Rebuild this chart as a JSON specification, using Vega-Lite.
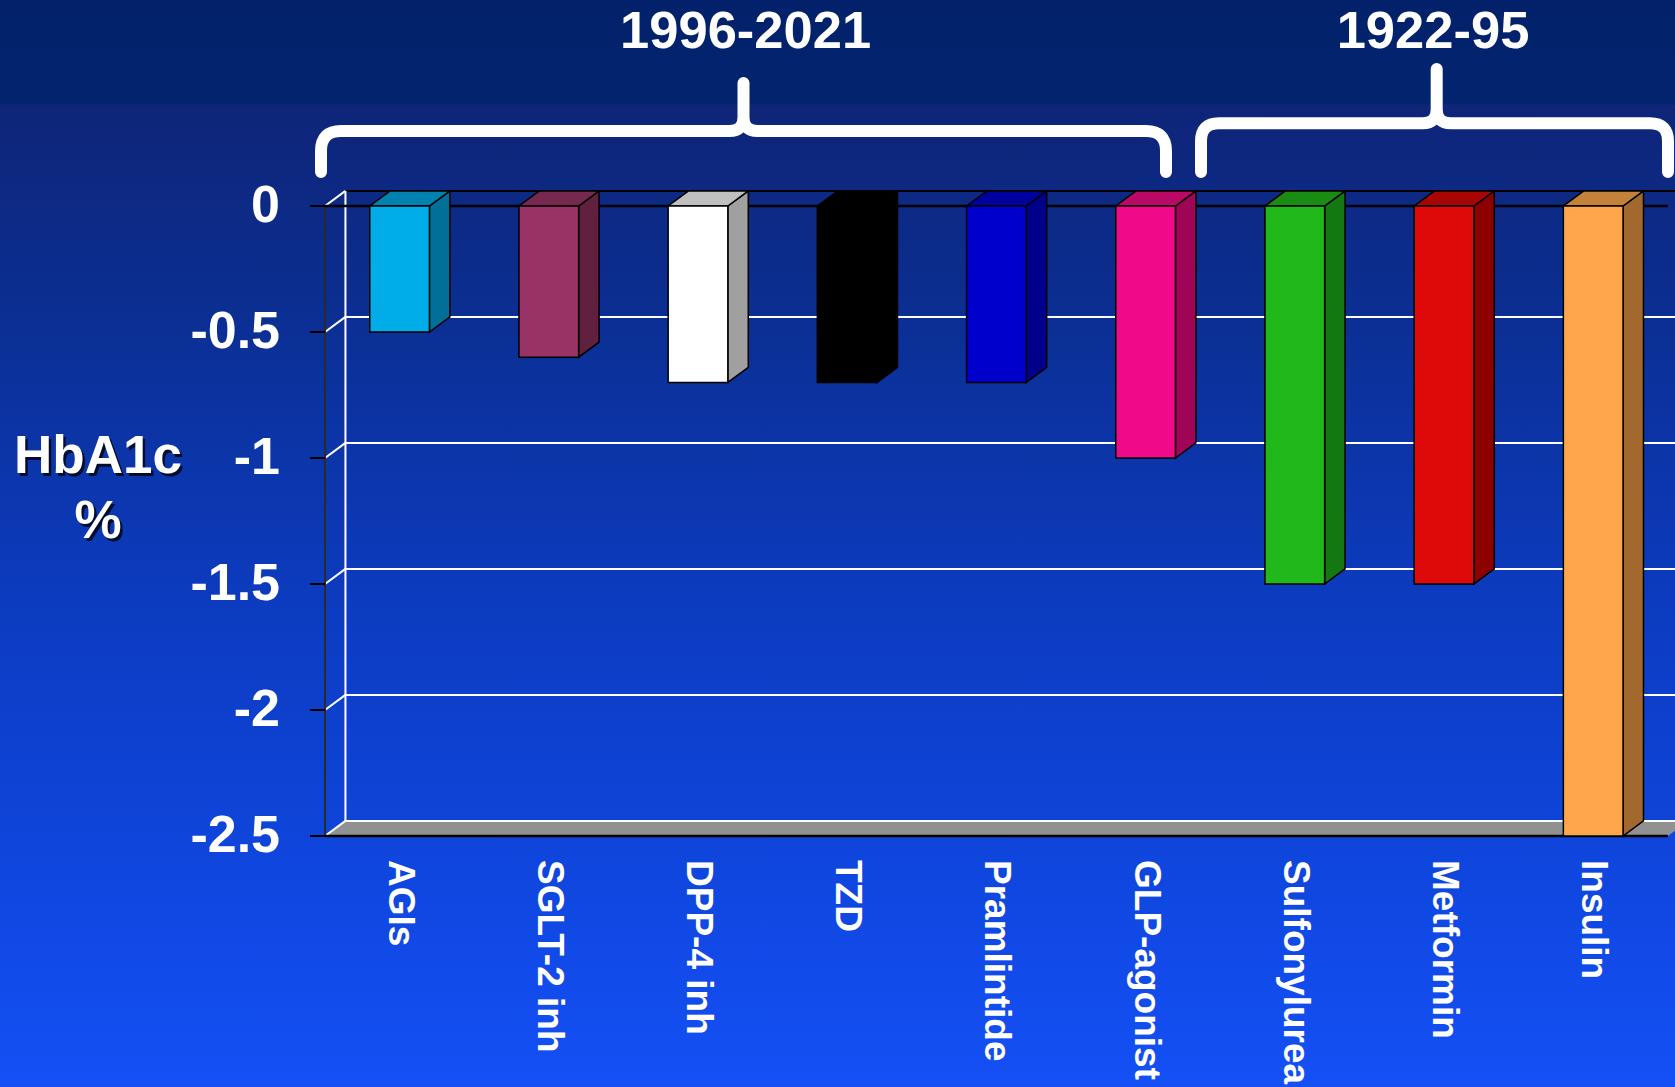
{
  "$schema": "https://vega.github.io/schema/vega-lite/v6.json",
  "width": 1675,
  "height": 1087,
  "autosize": {"type": "none"},
  "padding": 0,
  "background": "#0b2d8e",
  "config": {
    "font": "Liberation Sans",
    "view": {
      "stroke": null,
      "fill": {
        "gradient": "linear",
        "x1": 0, "y1": 0, "x2": 0, "y2": 1,
        "stops": [
          {"offset": 0, "color": "#02216a"},
          {"offset": 0.095, "color": "#02246f"},
          {"offset": 0.097, "color": "#0e2578"},
          {"offset": 0.3, "color": "#0b2f94"},
          {"offset": 0.55, "color": "#0c3bbf"},
          {"offset": 0.8, "color": "#0f46de"},
          {"offset": 1, "color": "#1450f6"}
        ]
      }
    }
  },
  "datasets": {
    "drugs": [
      {"drug": "AGIs", "change": -0.5, "era": "1996-2021"},
      {"drug": "SGLT-2 inh", "change": -0.6, "era": "1996-2021"},
      {"drug": "DPP-4 inh", "change": -0.7, "era": "1996-2021"},
      {"drug": "TZD", "change": -0.7, "era": "1996-2021"},
      {"drug": "Pramlintide", "change": -0.7, "era": "1996-2021"},
      {"drug": "GLP-agonist", "change": -1.0, "era": "1996-2021"},
      {"drug": "Sulfonylurea", "change": -1.5, "era": "1922-95"},
      {"drug": "Metformin", "change": -1.5, "era": "1922-95"},
      {"drug": "Insulin", "change": -2.5, "era": "1922-95"}
    ],
    "ticks": [
      {"level": 0},
      {"level": -0.5},
      {"level": -1},
      {"level": -1.5},
      {"level": -2},
      {"level": -2.5}
    ]
  },
  "resolve": {"scale": {"fill": "independent"}},
  "layer": [
    {
      "data": {"name": "ticks"},
      "transform": [
        {"filter": "datum.level === -2.5"},
        {"calculate": "0", "as": "near"},
        {"calculate": "1", "as": "far"},
        {"fold": ["near", "far"], "as": ["edge", "k"]},
        {"calculate": "datum.level + datum.k * 0.06", "as": "fy"},
        {"calculate": "datum.k * 0.137", "as": "fx0"},
        {"calculate": "9 + datum.k * 0.137", "as": "fx1"}
      ],
      "mark": {"type": "area", "orient": "horizontal", "color": "#919191"},
      "encoding": {
        "y": {"field": "fy", "type": "quantitative", "scale": {"domain": [-3.49603, 0.81746], "nice": false, "zero": false}, "axis": null},
        "x": {"field": "fx0", "type": "quantitative", "stack": null, "scale": {"domain": [-2.17828, 9.04826], "nice": false, "zero": false}, "axis": null},
        "x2": {"field": "fx1"}
      }
    },
    {
      "data": {"name": "ticks"},
      "transform": [{"calculate": "datum.level + 0.06", "as": "back"}],
      "mark": {"type": "rule", "strokeWidth": 2},
      "encoding": {
        "x": {"datum": 0.137, "type": "quantitative", "scale": {"domain": [-2.17828, 9.04826], "nice": false, "zero": false}, "axis": null},
        "x2": {"datum": 9.3},
        "y": {"field": "back", "type": "quantitative", "scale": {"domain": [-3.49603, 0.81746], "nice": false, "zero": false}, "axis": null},
        "color": {"condition": {"test": "datum.level === 0", "value": "#000000"}, "value": "#ffffff"}
      }
    },
    {
      "data": {"name": "ticks"},
      "transform": [{"calculate": "datum.level + 0.06", "as": "back"}],
      "mark": {"type": "rule", "color": "#ffffff", "strokeWidth": 2},
      "encoding": {
        "x": {"datum": 0, "type": "quantitative", "scale": {"domain": [-2.17828, 9.04826], "nice": false, "zero": false}, "axis": null},
        "x2": {"datum": 0.137},
        "y": {"field": "level", "type": "quantitative", "scale": {"domain": [-3.49603, 0.81746], "nice": false, "zero": false}, "axis": null},
        "y2": {"field": "back"}
      }
    },
    {
      "data": {"values": [{}]},
      "mark": {"type": "rule", "color": "#ffffff", "strokeWidth": 2},
      "encoding": {
        "x": {"datum": 0.137, "type": "quantitative", "scale": {"domain": [-2.17828, 9.04826], "nice": false, "zero": false}, "axis": null},
        "y": {"datum": 0.06, "type": "quantitative", "scale": {"domain": [-3.49603, 0.81746], "nice": false, "zero": false}, "axis": null},
        "y2": {"datum": -2.44}
      }
    },
    {
      "data": {"values": [{}]},
      "mark": {"type": "rule", "color": "#2a2a2a", "strokeWidth": 2},
      "encoding": {
        "x": {"datum": 0, "type": "quantitative", "scale": {"domain": [-2.17828, 9.04826], "nice": false, "zero": false}, "axis": null},
        "y": {"datum": 0, "type": "quantitative", "scale": {"domain": [-3.49603, 0.81746], "nice": false, "zero": false}, "axis": null},
        "y2": {"datum": -2.5}
      }
    },
    {
      "data": {"name": "ticks"},
      "mark": {"type": "rule", "color": "#000000", "strokeWidth": 2},
      "encoding": {
        "x": {"datum": -0.1005, "type": "quantitative", "scale": {"domain": [-2.17828, 9.04826], "nice": false, "zero": false}, "axis": null},
        "x2": {"datum": 0},
        "y": {"field": "level", "type": "quantitative", "scale": {"domain": [-3.49603, 0.81746], "nice": false, "zero": false}, "axis": null}
      }
    },
    {
      "data": {"name": "ticks"},
      "transform": [{"calculate": "'' + datum.level", "as": "label"}],
      "mark": {"type": "text", "align": "right", "baseline": "middle", "dx": -45, "font": "Liberation Sans", "fontSize": 52, "fontWeight": "bold", "color": "#ffffff"},
      "encoding": {
        "x": {"datum": 0, "type": "quantitative", "scale": {"domain": [-2.17828, 9.04826], "nice": false, "zero": false}, "axis": null},
        "y": {"field": "level", "type": "quantitative", "scale": {"domain": [-3.49603, 0.81746], "nice": false, "zero": false}, "axis": null},
        "text": {"field": "label"}
      }
    },
    {
      "data": {"name": "ticks"},
      "transform": [{"filter": "datum.level === 0 || datum.level === -2.5"}],
      "mark": {"type": "rule", "color": "#000000", "strokeWidth": 2.5},
      "encoding": {
        "x": {"datum": 0, "type": "quantitative", "scale": {"domain": [-2.17828, 9.04826], "nice": false, "zero": false}, "axis": null},
        "x2": {"datum": 9},
        "y": {"field": "level", "type": "quantitative", "scale": {"domain": [-3.49603, 0.81746], "nice": false, "zero": false}, "axis": null}
      }
    },
    {
      "data": {"name": "drugs"},
      "transform": [
        {"window": [{"op": "row_number", "as": "n"}]},
        {"calculate": "0", "as": "near"},
        {"calculate": "1", "as": "far"},
        {"fold": ["near", "far"], "as": ["edge", "k"]},
        {"calculate": "datum.n - 0.3 + datum.k * 0.137", "as": "sx"},
        {"calculate": "datum.k * 0.06", "as": "stop"},
        {"calculate": "datum.change + datum.k * 0.06", "as": "sbottom"}
      ],
      "mark": {"type": "area", "orient": "vertical", "stroke": "#000000", "strokeWidth": 1.5},
      "encoding": {
        "x": {"field": "sx", "type": "quantitative", "scale": {"domain": [-2.17828, 9.04826], "nice": false, "zero": false}, "axis": null},
        "y": {"field": "stop", "type": "quantitative", "stack": null, "scale": {"domain": [-3.49603, 0.81746], "nice": false, "zero": false}, "axis": null},
        "y2": {"field": "sbottom"},
        "fill": {
          "field": "drug",
          "type": "nominal",
          "legend": null,
          "scale": {
            "domain": ["AGIs", "SGLT-2 inh", "DPP-4 inh", "TZD", "Pramlintide", "GLP-agonist", "Sulfonylurea", "Metformin", "Insulin"],
            "range": ["#007099", "#62203f", "#a0a0a0", "#000000", "#00008a", "#a00457", "#147812", "#8e0000", "#a2682d"]
          }
        }
      }
    },
    {
      "data": {"name": "drugs"},
      "transform": [
        {"window": [{"op": "row_number", "as": "n"}]},
        {"calculate": "0", "as": "near"},
        {"calculate": "1", "as": "far"},
        {"fold": ["near", "far"], "as": ["edge", "k"]},
        {"calculate": "datum.n - 0.7 + datum.k * 0.137", "as": "tl"},
        {"calculate": "datum.n - 0.3 + datum.k * 0.137", "as": "tr"},
        {"calculate": "datum.k * 0.06", "as": "ty"}
      ],
      "mark": {"type": "area", "orient": "horizontal", "stroke": "#000000", "strokeWidth": 1.5},
      "encoding": {
        "y": {"field": "ty", "type": "quantitative", "scale": {"domain": [-3.49603, 0.81746], "nice": false, "zero": false}, "axis": null},
        "x": {"field": "tl", "type": "quantitative", "stack": null, "scale": {"domain": [-2.17828, 9.04826], "nice": false, "zero": false}, "axis": null},
        "x2": {"field": "tr"},
        "fill": {
          "field": "drug",
          "type": "nominal",
          "legend": null,
          "scale": {
            "domain": ["AGIs", "SGLT-2 inh", "DPP-4 inh", "TZD", "Pramlintide", "GLP-agonist", "Sulfonylurea", "Metformin", "Insulin"],
            "range": ["#0082b0", "#77284f", "#c0c0c0", "#000000", "#00009e", "#ba0866", "#1a8c14", "#a80505", "#c4813a"]
          }
        }
      }
    },
    {
      "data": {"name": "drugs"},
      "transform": [
        {"window": [{"op": "row_number", "as": "n"}]},
        {"calculate": "datum.n - 0.7", "as": "fl"},
        {"calculate": "datum.n - 0.3", "as": "fr"}
      ],
      "mark": {"type": "rect", "stroke": "#000000", "strokeWidth": 1.5},
      "encoding": {
        "x": {"field": "fl", "type": "quantitative", "scale": {"domain": [-2.17828, 9.04826], "nice": false, "zero": false}, "axis": null},
        "x2": {"field": "fr"},
        "y": {"field": "change", "type": "quantitative", "scale": {"domain": [-3.49603, 0.81746], "nice": false, "zero": false}, "axis": null},
        "y2": {"datum": 0},
        "fill": {
          "field": "drug",
          "type": "nominal",
          "legend": null,
          "scale": {
            "domain": ["AGIs", "SGLT-2 inh", "DPP-4 inh", "TZD", "Pramlintide", "GLP-agonist", "Sulfonylurea", "Metformin", "Insulin"],
            "range": ["#00ade9", "#993366", "#ffffff", "#000000", "#0000cc", "#f00a8a", "#20b81a", "#de0a0a", "#ffa64d"]
          }
        }
      }
    },
    {
      "data": {"name": "drugs"},
      "transform": [
        {"window": [{"op": "row_number", "as": "n"}]},
        {"calculate": "datum.n - 0.5", "as": "centre"}
      ],
      "mark": {"type": "text", "angle": 90, "align": "left", "baseline": "middle", "dx": 24, "font": "Liberation Sans", "fontSize": 37, "fontWeight": "bold", "color": "#ffffff"},
      "encoding": {
        "x": {"field": "centre", "type": "quantitative", "scale": {"domain": [-2.17828, 9.04826], "nice": false, "zero": false}, "axis": null},
        "y": {"datum": -2.5, "type": "quantitative", "scale": {"domain": [-3.49603, 0.81746], "nice": false, "zero": false}, "axis": null},
        "text": {"field": "drug"}
      }
    },
    {
      "data": {"values": [{}]},
      "mark": {"type": "text", "align": "center", "baseline": "middle", "font": "Liberation Sans", "fontSize": 53, "fontWeight": "bold", "lineHeight": 65, "color": "#000000", "opacity": 0.75, "dx": 2.5, "dy": 2.5},
      "encoding": {
        "x": {"datum": -1.5214, "type": "quantitative", "scale": {"domain": [-2.17828, 9.04826], "nice": false, "zero": false}, "axis": null},
        "y": {"datum": -0.998, "type": "quantitative", "scale": {"domain": [-3.49603, 0.81746], "nice": false, "zero": false}, "axis": null},
        "text": {"value": ["HbA1c", "%"]}
      }
    },
    {
      "data": {"values": [{}]},
      "mark": {"type": "text", "align": "center", "baseline": "middle", "font": "Liberation Sans", "fontSize": 53, "fontWeight": "bold", "lineHeight": 65, "color": "#ffffff"},
      "encoding": {
        "x": {"datum": -1.5214, "type": "quantitative", "scale": {"domain": [-2.17828, 9.04826], "nice": false, "zero": false}, "axis": null},
        "y": {"datum": -0.998, "type": "quantitative", "scale": {"domain": [-3.49603, 0.81746], "nice": false, "zero": false}, "axis": null},
        "text": {"value": ["HbA1c", "%"]}
      }
    },
    {
      "data": {"name": "drugs"},
      "transform": [
        {"window": [{"op": "row_number", "as": "n"}]},
        {"aggregate": [{"op": "min", "field": "n", "as": "first"}, {"op": "max", "field": "n", "as": "last"}], "groupby": ["era"]},
        {"calculate": "(datum.first + datum.last) / 2 - 0.5", "as": "mid"}
      ],
      "layer": [
        {
          "transform": [{"filter": "datum.era === '1996-2021'"}],
          "mark": {"type": "text", "align": "center", "baseline": "middle", "font": "Liberation Sans", "fontSize": 52.5, "fontWeight": "bold", "color": "#ffffff", "dx": -27},
          "encoding": {
            "x": {"field": "mid", "type": "quantitative", "scale": {"domain": [-2.17828, 9.04826], "nice": false, "zero": false}, "axis": null},
            "y": {"datum": 0.6885, "type": "quantitative", "scale": {"domain": [-3.49603, 0.81746], "nice": false, "zero": false}, "axis": null},
            "text": {"field": "era"}
          }
        },
        {
          "transform": [{"filter": "datum.era === '1922-95'"}],
          "mark": {"type": "text", "align": "center", "baseline": "middle", "font": "Liberation Sans", "fontSize": 52.5, "fontWeight": "bold", "color": "#ffffff", "dx": -11},
          "encoding": {
            "x": {"field": "mid", "type": "quantitative", "scale": {"domain": [-2.17828, 9.04826], "nice": false, "zero": false}, "axis": null},
            "y": {"datum": 0.6885, "type": "quantitative", "scale": {"domain": [-3.49603, 0.81746], "nice": false, "zero": false}, "axis": null},
            "text": {"field": "era"}
          }
        },
        {
          "transform": [{"filter": "datum.era === '1996-2021'"}],
          "mark": {
            "type": "point",
            "shape": "M-451.6,41.6 L-451.6,20.6 Q-451.6,0.6 -431.6,0.6 L-43.1,0.6 Q-29.1,0.6 -29.1,-13.4 L-29.1,-47.4 M-29.1,-13.4 Q-29.1,0.6 -15.1,0.6 L373.4,0.6 Q393.4,0.6 393.4,20.6 L393.4,41.6",
            "size": 4,
            "filled": false,
            "color": "#ffffff",
            "stroke": "#ffffff",
            "strokeWidth": 12,
            "strokeCap": "round",
            "strokeJoin": "round",
            "opacity": 1
          },
          "encoding": {
            "x": {"field": "mid", "type": "quantitative", "scale": {"domain": [-2.17828, 9.04826], "nice": false, "zero": false}, "axis": null},
            "y": {"datum": 0.3, "type": "quantitative", "scale": {"domain": [-3.49603, 0.81746], "nice": false, "zero": false}, "axis": null}
          }
        },
        {
          "transform": [{"filter": "datum.era === '1922-95'"}],
          "mark": {
            "type": "point",
            "shape": "M-243,41.6 L-243,10.9 Q-243,-7.1 -225,-7.1 L-21.3,-7.1 Q-7.3,-7.1 -7.3,-21.1 L-7.3,-61.4 M-7.3,-21.1 Q-7.3,-7.1 6.7,-7.1 L206,-7.1 Q224,-7.1 224,10.9 L224,41.6",
            "size": 4,
            "filled": false,
            "color": "#ffffff",
            "stroke": "#ffffff",
            "strokeWidth": 12,
            "strokeCap": "round",
            "strokeJoin": "round",
            "opacity": 1
          },
          "encoding": {
            "x": {"field": "mid", "type": "quantitative", "scale": {"domain": [-2.17828, 9.04826], "nice": false, "zero": false}, "axis": null},
            "y": {"datum": 0.3, "type": "quantitative", "scale": {"domain": [-3.49603, 0.81746], "nice": false, "zero": false}, "axis": null}
          }
        }
      ]
    }
  ]
}
